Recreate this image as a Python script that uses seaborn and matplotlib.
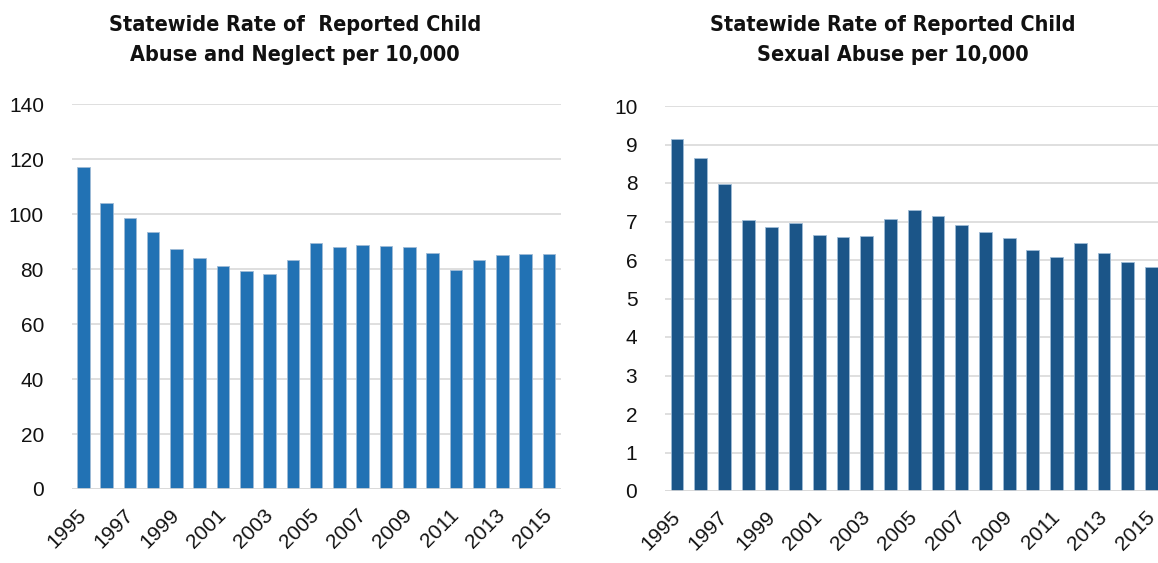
import numpy as np
import pandas as pd
import seaborn as sns
import matplotlib.pyplot as plt
from matplotlib import font_manager

years = [str(y) for y in range(1995, 2016)]
abuse_neglect = [117.2, 104.1, 98.6, 93.7, 87.2, 84.1, 81.2, 79.5, 78.4, 83.5, 89.4,
                 88.0, 88.7, 88.5, 88.1, 85.8, 79.7, 83.4, 85.1, 85.4, 85.7]
sexual_abuse = [9.15, 8.65, 7.98, 7.05, 6.87, 6.96, 6.65, 6.59, 6.63, 7.07, 7.29,
                7.14, 6.90, 6.73, 6.58, 6.26, 6.09, 6.43, 6.17, 5.94, 5.83]
title_left = "Statewide Rate of  Reported Child\nAbuse and Neglect per 10,000"
title_right = "Statewide Rate of Reported Child\nSexual Abuse per 10,000"

sns.set_style("white")
plt.rcParams['font.family'] = ['Liberation Sans', 'DejaVu Sans']

# look for a condensed bold face for the titles
fonts = font_manager.fontManager.ttflist
cond = [f for f in fonts if f.stretch in ('condensed', 'semi-condensed', 'extra-condensed')
        or 'Narrow' in f.name or 'Condensed' in f.name]
cond_bold = [f for f in cond if f.weight in ('bold', 700, 'semibold', 600)]
if cond_bold:
    title_font = font_manager.FontProperties(fname=cond_bold[0].fname, size=15.5)
elif cond:
    title_font = font_manager.FontProperties(fname=cond[0].fname, size=15.5, weight='bold')
else:
    title_font = font_manager.FontProperties(family='Liberation Sans', size=14.5, weight='bold')

df1 = pd.DataFrame({'year': years, 'rate': abuse_neglect})
df2 = pd.DataFrame({'year': years, 'rate': sexual_abuse})

fig = plt.figure(figsize=(11.58, 5.63), dpi=100)
W, H = 1158, 563
ax1 = fig.add_axes([71.7 / W, 1 - 489 / H, (560.7 - 71.7) / W, (489 - 104.3) / H])
ax2 = fig.add_axes([665.1 / W, 1 - 491 / H, (1163.4 - 665.1) / W, (491 - 106) / H])

def draw(ax, df, color, ymax, step):
    sns.barplot(data=df, x='year', y='rate', color=color, width=0.54,
                saturation=1, edgecolor='#9fbbd6', linewidth=0.6, ax=ax, zorder=3)
    ax.set_ylim(0, ymax)
    ax.set_xlim(-0.5, len(df) - 0.5)
    ax.set_yticks(np.arange(0, ymax + step / 2, step))
    ax.yaxis.grid(True, color='#d9d9d9', linewidth=1.2, zorder=0)
    ax.set_axisbelow(True)
    ax.axhline(0, color='#d9d9d9', linewidth=1.2, zorder=4)
    sns.despine(ax=ax, left=True, bottom=True)
    ax.set_xlabel('')
    ax.set_ylabel('')
    ax.set_xticks(range(0, len(df), 2))
    ax.set_xticklabels(df['year'][::2], rotation=45, ha='right', va='center',
                       rotation_mode='anchor')
    ax.tick_params(axis='x', length=0, pad=17, labelsize=15, labelcolor='#111111')
    ax.tick_params(axis='y', length=0, pad=20, labelsize=15, labelcolor='#111111')

draw(ax1, df1, '#2272b4', 140, 20)
draw(ax2, df2, '#1b5588', 10, 1)

for x, t in [(295 / W, title_left), (893 / W, title_right)]:
    fig.text(x, 1 - 15 / H, t, ha='center', va='top', fontproperties=title_font,
             color='#111111', linespacing=1.62)

fig.savefig('out.png', dpi=100)
